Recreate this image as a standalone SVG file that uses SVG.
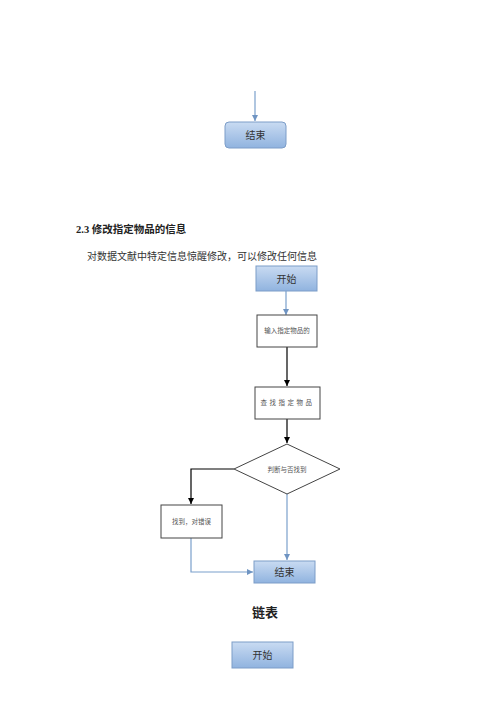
<svg xmlns="http://www.w3.org/2000/svg" width="500" height="707" viewBox="0 0 500 707">
<defs>
<linearGradient id="g" x1="0" y1="0" x2="0" y2="1">
<stop offset="0" stop-color="#c9dbf2"/>
<stop offset="1" stop-color="#90b3df"/>
</linearGradient>
<marker id="ab" viewBox="0 0 10 10" refX="10" refY="5" markerWidth="5" markerHeight="5" orient="auto"><path d="M0,0 L10,5 L0,10 z" fill="#6f94c2"/></marker>
<marker id="ak" viewBox="0 0 10 10" refX="10" refY="5" markerWidth="5" markerHeight="5" orient="auto"><path d="M0,0 L10,5 L0,10 z" fill="#000"/></marker>
</defs>
<style>
text{font-family:"Liberation Serif","Noto Sans CJK SC",serif;}
.blue{fill:url(#g);stroke:#7c9dc8;stroke-width:1;}
.white{fill:#fff;stroke:#444;stroke-width:1;}
.bl{stroke:#7ba0cc;stroke-width:1.2;fill:none;}
.bk{stroke:#000;stroke-width:1.2;fill:none;}
.lbl{font-size:10px;fill:#333;text-anchor:middle;}
.sm{font-size:6.5px;fill:#555;text-anchor:middle;}
</style>
<g id="connectors">
<path class="bl" d="M255,91 V121" marker-end="url(#ab)"/>
<path class="bl" d="M286,291 V315" marker-end="url(#ab)"/>
<path class="bk" d="M287,347 V386" marker-end="url(#ak)"/>
<path class="bk" d="M287,419 V443" marker-end="url(#ak)"/>
<path class="bk" d="M234,469 H191 V504" marker-end="url(#ak)"/>
<path class="bl" d="M287,494 V560" marker-end="url(#ab)"/>
<path class="bl" d="M191,538 V572 H253" marker-end="url(#ab)"/>
</g>
<g id="end-top"><rect class="blue" x="225" y="122" width="61" height="26" rx="4"/><text class="lbl" x="255.5" y="139">结束</text></g>
<g id="heading"><text x="76" y="233" font-size="10.5" font-weight="bold" fill="#222">2.3 修改指定物品的信息</text></g>
<g id="para"><text x="87" y="260" font-size="10" fill="#333">对数据文献中特定信息惊醒修改，可以修改任何信息</text></g>
<g id="start"><rect class="blue" x="256" y="266" width="61" height="25"/><text class="lbl" x="286.5" y="282.5">开始</text></g>
<g id="input"><rect class="white" x="257" y="315" width="60" height="32"/><text class="sm" x="287" y="333">输入指定物品的</text></g>
<g id="find"><rect class="white" x="255" y="387" width="65" height="32"/><text class="sm" x="287.5" y="405" letter-spacing="2.5">查找指定物品</text></g>
<g id="decide"><polygon class="white" points="287,444 340,469 287,494 234,469"/><text class="sm" x="287" y="472" font-size="7">判断与否找到</text></g>
<g id="found"><rect class="white" x="161" y="505" width="61" height="33"/><text class="sm" x="191.5" y="524" font-size="7">找到，对错误</text></g>
<g id="end"><rect class="blue" x="254" y="561" width="61" height="22"/><text class="lbl" x="284.5" y="576">结束</text></g>
<g id="title2"><text x="265" y="617" font-size="13" font-weight="bold" fill="#222" text-anchor="middle">链表</text></g>
<g id="start2"><rect class="blue" x="232" y="642" width="61" height="26"/><text class="lbl" x="262.5" y="659">开始</text></g>
</svg>
